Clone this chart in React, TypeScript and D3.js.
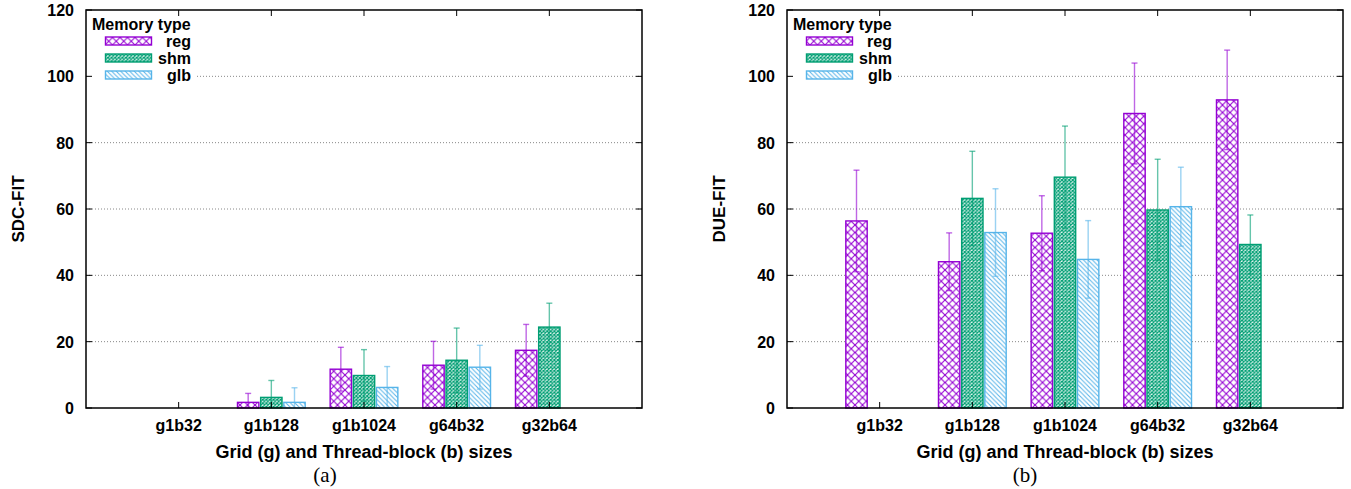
import React from 'react'
import * as d3 from 'd3'

// categories and series
const categories = ['g1b32', 'g1b128', 'g1b1024', 'g64b32', 'g32b64']
const memTypes = ['reg', 'shm', 'glb']
const yTicks = [0, 20, 40, 60, 80, 100, 120]

// (a) SDC-FIT
const sdcReg = [0, 1.7, 11.7, 12.9, 17.4]
const sdcRegErr = [0, 2.7, 6.6, 7.2, 7.8]
const sdcShm = [0, 3.2, 9.8, 14.4, 24.4]
const sdcShmErr = [0, 5.1, 7.8, 9.7, 7.2]
const sdcGlb = [0, 1.7, 6.2, 12.3, 0]
const sdcGlbErr = [0, 4.4, 6.3, 6.6, 0]

// (b) DUE-FIT
const dueReg = [56.4, 44.1, 52.7, 88.8, 92.9]
const dueRegErr = [15.3, 8.7, 11.3, 15.2, 15.0]
const dueShm = [0, 63.2, 69.6, 59.7, 49.3]
const dueShmErr = [0, 14.2, 15.4, 15.3, 8.9]
const dueGlb = [0, 52.9, 44.8, 60.7, 0]
const dueGlbErr = [0, 13.2, 11.7, 11.9, 0]

const colors = ['#9400d3', '#009e73', '#56b4e9']
const font = '"Liberation Sans", Arial, Helvetica, sans-serif'

const Patterns = () => (
  <defs>
    <pattern id="p-reg" patternUnits="userSpaceOnUse" width={7.5} height={7.5}>
      <rect width={7.5} height={7.5} fill="#fff" />
      <path d="M0,0L7.5,7.5M0,7.5L7.5,0" stroke={colors[0]} strokeWidth={1.1} />
    </pattern>
    <pattern id="p-shm" patternUnits="userSpaceOnUse" width={3.6} height={3.6}>
      <rect width={3.6} height={3.6} fill="#fff" />
      <path d="M0,0L3.6,3.6M0,3.6L3.6,0" stroke={colors[1]} strokeWidth={1.2} />
    </pattern>
    <pattern id="p-glb" patternUnits="userSpaceOnUse" width={4.5} height={4.5}>
      <rect width={4.5} height={4.5} fill="#fff" />
      <path d="M0,0L4.5,4.5M-1,3.5L1,5.5M3.5,-1L5.5,1" stroke={colors[2]} strokeWidth={1} />
    </pattern>
  </defs>
)

const patIds = ['p-reg', 'p-shm', 'p-glb']

type PanelProps = {
  left: number
  right: number
  yLabel: string
  values: number[][]
  errs: number[][]
}

const Panel = ({ left, right, yLabel, values, errs }: PanelProps) => {
  const top = 10
  const bottom = 408
  const x = d3.scaleLinear().domain([-1, 5]).range([left, right])
  const y = d3.scaleLinear().domain([0, 120]).range([bottom, top])
  const unit = x(1) - x(0)
  const barW = unit * 0.25
  const drawW = barW - 1.8
  const cx = (left + right) / 2

  return (
    <g>
      {/* grid */}
      {yTicks.filter(t => t > 0 && t < 120).map(t => (
        <line key={'g' + t} x1={left} x2={right} y1={y(t)} y2={y(t)}
          stroke="#888" strokeWidth={1} strokeDasharray="1,2" />
      ))}

      {/* legend (opaque box) */}
      <rect x={left + 3} y={top + 2} width={106} height={73} fill="#fff" />
      <text x={left + 6} y={top + 20} fontFamily={font} fontWeight="bold" fontSize={16}>Memory type</text>
      {memTypes.map((m, j) => {
        const ly = top + 31 + j * 17
        return (
          <g key={m}>
            <rect x={left + 19.5} y={ly - 4} width={46} height={8} fill={`url(#${patIds[j]})`}
              stroke={colors[j]} strokeWidth={1.4} />
            <text x={left + 105} y={ly + 6} textAnchor="end" fontFamily={font}
              fontWeight="bold" fontSize={16}>{m}</text>
          </g>
        )
      })}

      {/* bars */}
      {categories.map((c, i) => (
        <g key={c}>
          {memTypes.map((m, j) => {
            const v = values[j][i]
            const e = errs[j][i]
            if (v <= 0) return null
            const bx = x(i) + (j - 1) * barW
            const lo = Math.max(0, v - e)
            return (
              <g key={m}>
                <rect x={bx - drawW / 2} y={y(v)} width={drawW} height={y(0) - y(v)}
                  fill={`url(#${patIds[j]})`} stroke={colors[j]} strokeWidth={1.4} />
                {e > 0 && (
                  <g stroke={colors[j]} strokeOpacity={0.6} strokeWidth={1.4}>
                    <line x1={bx} x2={bx} y1={y(lo)} y2={y(v + e)} />
                    <line x1={bx - 3} x2={bx + 3} y1={y(v + e)} y2={y(v + e)} />
                    {lo > 0 && <line x1={bx - 3} x2={bx + 3} y1={y(lo)} y2={y(lo)} />}
                  </g>
                )}
              </g>
            )
          })}
        </g>
      ))}

      {/* ticks */}
      {yTicks.map(t => (
        <g key={'t' + t} stroke="#000" strokeWidth={1}>
          <line x1={left} x2={left + 6} y1={y(t)} y2={y(t)} />
          <line x1={right} x2={right - 6} y1={y(t)} y2={y(t)} />
        </g>
      ))}
      {categories.map((c, i) => (
        <g key={'xt' + c} stroke="#000" strokeWidth={1}>
          <line x1={x(i)} x2={x(i)} y1={bottom} y2={bottom - 6} />
          <line x1={x(i)} x2={x(i)} y1={top} y2={top + 6} />
        </g>
      ))}

      {/* border */}
      <rect x={left} y={top} width={right - left} height={bottom - top} fill="none"
        stroke="#000" strokeWidth={1.5} />

      {/* tick labels */}
      {yTicks.map(t => (
        <text key={'yl' + t} x={left - 12} y={y(t) + 6} textAnchor="end"
          fontFamily={font} fontWeight="bold" fontSize={16}>{t}</text>
      ))}
      {categories.map((c, i) => (
        <text key={'xl' + c} x={x(i)} y={431} textAnchor="middle"
          fontFamily={font} fontWeight="bold" fontSize={16}>{c}</text>
      ))}

      <text x={cx} y={458} textAnchor="middle" fontFamily={font} fontWeight="bold" fontSize={18}>
        Grid (g) and Thread-block (b) sizes
      </text>
      <text transform={`translate(${left - 62},${209}) rotate(-90)`} textAnchor="middle"
        fontFamily={font} fontWeight="bold" fontSize={17}>{yLabel}</text>
    </g>
  )
}

const App = () => {
  return (
    <svg width={1351} height={489} style={{ position: 'absolute', left: 0, top: 0, background: '#fff' }}>
      <Patterns />
      <rect width={1351} height={489} fill="#fff" />
      <Panel left={86} right={642} yLabel="SDC-FIT"
        values={[sdcReg, sdcShm, sdcGlb]} errs={[sdcRegErr, sdcShmErr, sdcGlbErr]} />
      <Panel left={787} right={1343} yLabel="DUE-FIT"
        values={[dueReg, dueShm, dueGlb]} errs={[dueRegErr, dueShmErr, dueGlbErr]} />
      <text x={325} y={482} textAnchor="middle" fontFamily='"Liberation Serif", "Times New Roman", serif'
        fontSize={21}>(a)</text>
      <text x={1025} y={482} textAnchor="middle" fontFamily='"Liberation Serif", "Times New Roman", serif'
        fontSize={21}>(b)</text>
    </svg>
  )
}

export default App
